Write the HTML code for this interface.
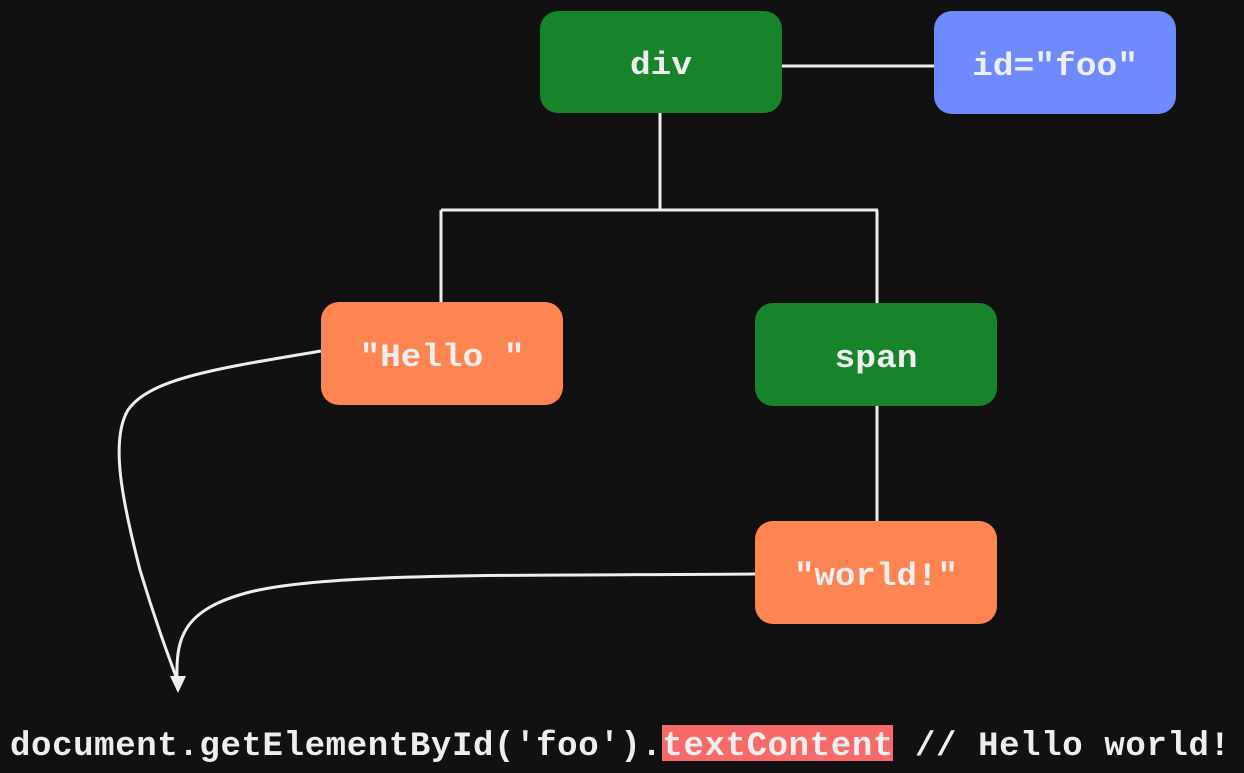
<!DOCTYPE html>
<html><head><meta charset="utf-8"><style>
html,body{margin:0;padding:0;background:#111111;}
svg{display:block}
</style></head><body>
<svg width="1244" height="773" viewBox="0 0 1244 773" xmlns="http://www.w3.org/2000/svg">
<rect width="1244" height="773" fill="#111111"/>
<g stroke="#eeeeee" stroke-width="3" fill="none">
<line x1="782" y1="66" x2="934" y2="66"/>
<line x1="660" y1="113" x2="660" y2="210"/>
<line x1="441" y1="210" x2="878" y2="210"/>
<line x1="441" y1="210" x2="441" y2="302"/>
<line x1="877" y1="210" x2="877" y2="303"/>
<line x1="877" y1="406" x2="877" y2="521"/>
<path d="M321,351 C220,368 150,378 128,410 C110,440 122,500 140,570 C155,620 168,655 178,682"/>
<path d="M755,574 C520,576 330,572 250,592 C180,610 176,640 177,682"/>
</g>
<polygon points="170,676 186,676 178,693" fill="#eeeeee"/>
<rect x="540" y="11" width="242" height="102" rx="18" fill="#17832a"/>
<rect x="934" y="11" width="242" height="103" rx="18" fill="#6f89fe"/>
<rect x="321" y="302" width="242" height="103" rx="18" fill="#fe8452"/>
<rect x="755" y="303" width="242" height="103" rx="18" fill="#17832a"/>
<rect x="755" y="521" width="242" height="103" rx="18" fill="#fe8452"/>
<g font-family="Liberation Mono, monospace" font-size="32" font-weight="bold" fill="#eeeeee" text-anchor="middle">
<text x="661" y="74" textLength="62" lengthAdjust="spacingAndGlyphs">div</text>
<text x="1055" y="75" textLength="166" lengthAdjust="spacingAndGlyphs">id="foo"</text>
<text x="442" y="366" textLength="165" lengthAdjust="spacingAndGlyphs">"Hello "</text>
<text x="876" y="367" textLength="83" lengthAdjust="spacingAndGlyphs">span</text>
<text x="876" y="585" textLength="164" lengthAdjust="spacingAndGlyphs">"world!"</text>
</g>
<rect x="662" y="725" width="231" height="36" fill="#f86a6a"/>
<text x="10" y="755" font-family="Liberation Mono, monospace" font-size="34" font-weight="bold" fill="#eeeeee" textLength="1220" lengthAdjust="spacing">document.getElementById('foo').textContent // Hello world!</text>
</svg>
</body></html>
